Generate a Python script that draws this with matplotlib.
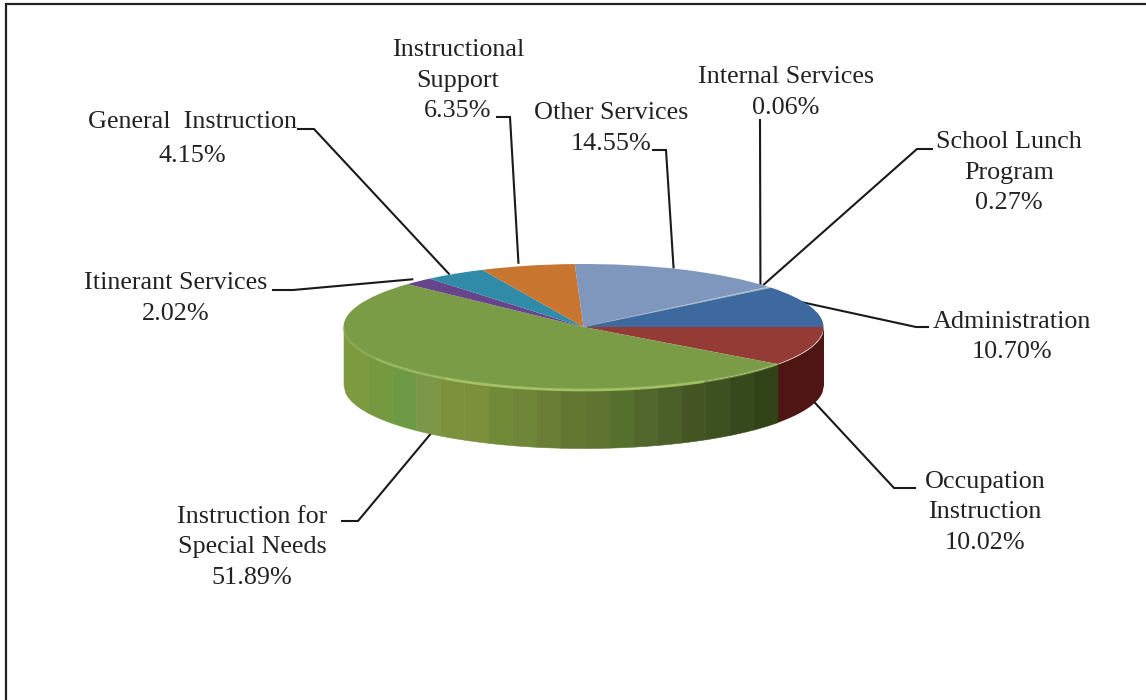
import numpy as np
import matplotlib
matplotlib.use('Agg')
import matplotlib.pyplot as plt

plt.rcParams['font.family'] = ['Liberation Serif', 'DejaVu Serif']

names = ['Occupation\nInstruction', 'Instruction for\nSpecial Needs', 'Itinerant Services',
         'General  Instruction', 'Instructional\nSupport', 'Other Services',
         'Internal Services', 'School Lunch\nProgram', 'Administration']
shares = [10.02, 51.89, 2.02, 4.15, 6.35, 14.55, 0.06, 0.27, 10.70]
top_colors = ['#953b36', '#7a9c47', '#66458a', '#2f8ba8', '#c8752f', '#7f97bd',
              '#8fa8c8', '#9db2c4', '#3d699f']

# front wall bands, left to right
green_bands = ['#7d9a3f', '#74993f', '#6f9a45', '#7c9748', '#7d913c', '#7c8f3a', '#718a38',
               '#6f8638', '#697d35', '#617731', '#5f7430', '#56702e', '#50662a', '#4b5f28',
               '#445723', '#3c5020', '#36491b', '#2f4316']
red_band = '#4f1513'

# label centre x, first line centre y, line spacing, elbow and leader start, nudge of the rim end
label_x = [985, 252, 176, 192, 458, 611, 786, 1009, 1012]
label_y = [480, 515, 281, 120, 48, 111, 75, 140, 320]
label_spacing = [1.5, 1.5, 1.5, 1.72, 1.5, 1.5, 1.5, 1.5, 1.5]
leader_start = [(915, 488), (342, 521), (273, 290), (298, 129), (497, 117), (653, 150),
                (760, 120), (932, 149), (928, 327)]
leader_elbow = [(894, 488), (358, 521), (293, 290), (314, 129), (510, 117), (666, 150),
                (760, 121), (917, 149), (916, 327)]
leader_nudge = [(2, -3), (4, -5), (-6, -2), (-6, 0), (-9, -3), (-8, -2), (-8, -3), (-6, -3), (-8, -4)]

cx, cy, rx, ry, depth = 583.5, 327, 240, 63, 58
W, H = 1146, 700

fig = plt.figure(figsize=(W / 100, H / 100), dpi=100)
bg = fig.add_axes([0, 0, 1, 1])
bg.set_xlim(0, W)
bg.set_ylim(H, 0)
bg.axis('off')

# frame: only left and top edges
bg.plot([6, 6, W], [H, 3.5, 3.5], color='#222222', lw=1.6, solid_joinstyle='miter')

# pie axes cover exactly the top ellipse
ax = fig.add_axes([(cx - rx) / W, 1 - (cy + ry) / H, 2 * rx / W, 2 * ry / H])
ax.pie(shares, colors=top_colors, startangle=0, counterclock=False, radius=1)
ax.set_aspect('auto')
ax.set_xlim(-1, 1)
ax.set_ylim(-1, 1)
ax.patch.set_visible(False)

ends = np.cumsum(shares) / sum(shares) * 360
mids = ends - np.array(shares) / sum(shares) * 180
wall = depth / ry

# red wall, then green wall cut in vertical bands
xr = np.linspace(np.cos(np.radians(ends[0])), 1, 30)
ax.fill_between(xr, -np.sqrt(1 - xr ** 2), -np.sqrt(1 - xr ** 2) - wall, color=red_band,
                lw=0, clip_on=False, zorder=0.5)
edges = np.linspace(-1, np.cos(np.radians(ends[0])), len(green_bands) + 1)
for i, c in enumerate(green_bands):
    xs = np.linspace(edges[i], edges[i + 1], 16)
    ys = -np.sqrt(1 - xs ** 2)
    ax.fill_between(xs, ys, ys - wall, color=c, lw=0.4, edgecolor=c, clip_on=False, zorder=0.5)

# bevel along the front of the green slice, brightest near the middle
for a0, a1, alpha in [(ends[0], 60, 0.35), (60, 125, 0.9), (125, 150, 0.55), (150, 180, 0.25)]:
    t = np.radians(np.linspace(a0, a1, 60))
    ax.plot(np.cos(t), -np.sin(t), color='#a6c466', lw=2, alpha=alpha, clip_on=False,
            zorder=3, solid_capstyle='butt')

for i, name in enumerate(names):
    a = np.radians(mids[i])
    px = cx + rx * np.cos(a) + leader_nudge[i][0]
    py = cy + ry * np.sin(a) + leader_nudge[i][1]
    if np.sin(a) > 0:
        py += depth
    bg.plot([leader_start[i][0], leader_elbow[i][0], px], [leader_start[i][1], leader_elbow[i][1], py],
            color='#1a1a1a', lw=1.5, solid_joinstyle='miter')
    bg.text(label_x[i], label_y[i] - 9, name + '\n%.2f%%' % shares[i], ha='center', va='top',
            fontsize=18.8, color='#222222', linespacing=label_spacing[i], multialignment='center')

fig.savefig('out.png', dpi=100, facecolor='white')
